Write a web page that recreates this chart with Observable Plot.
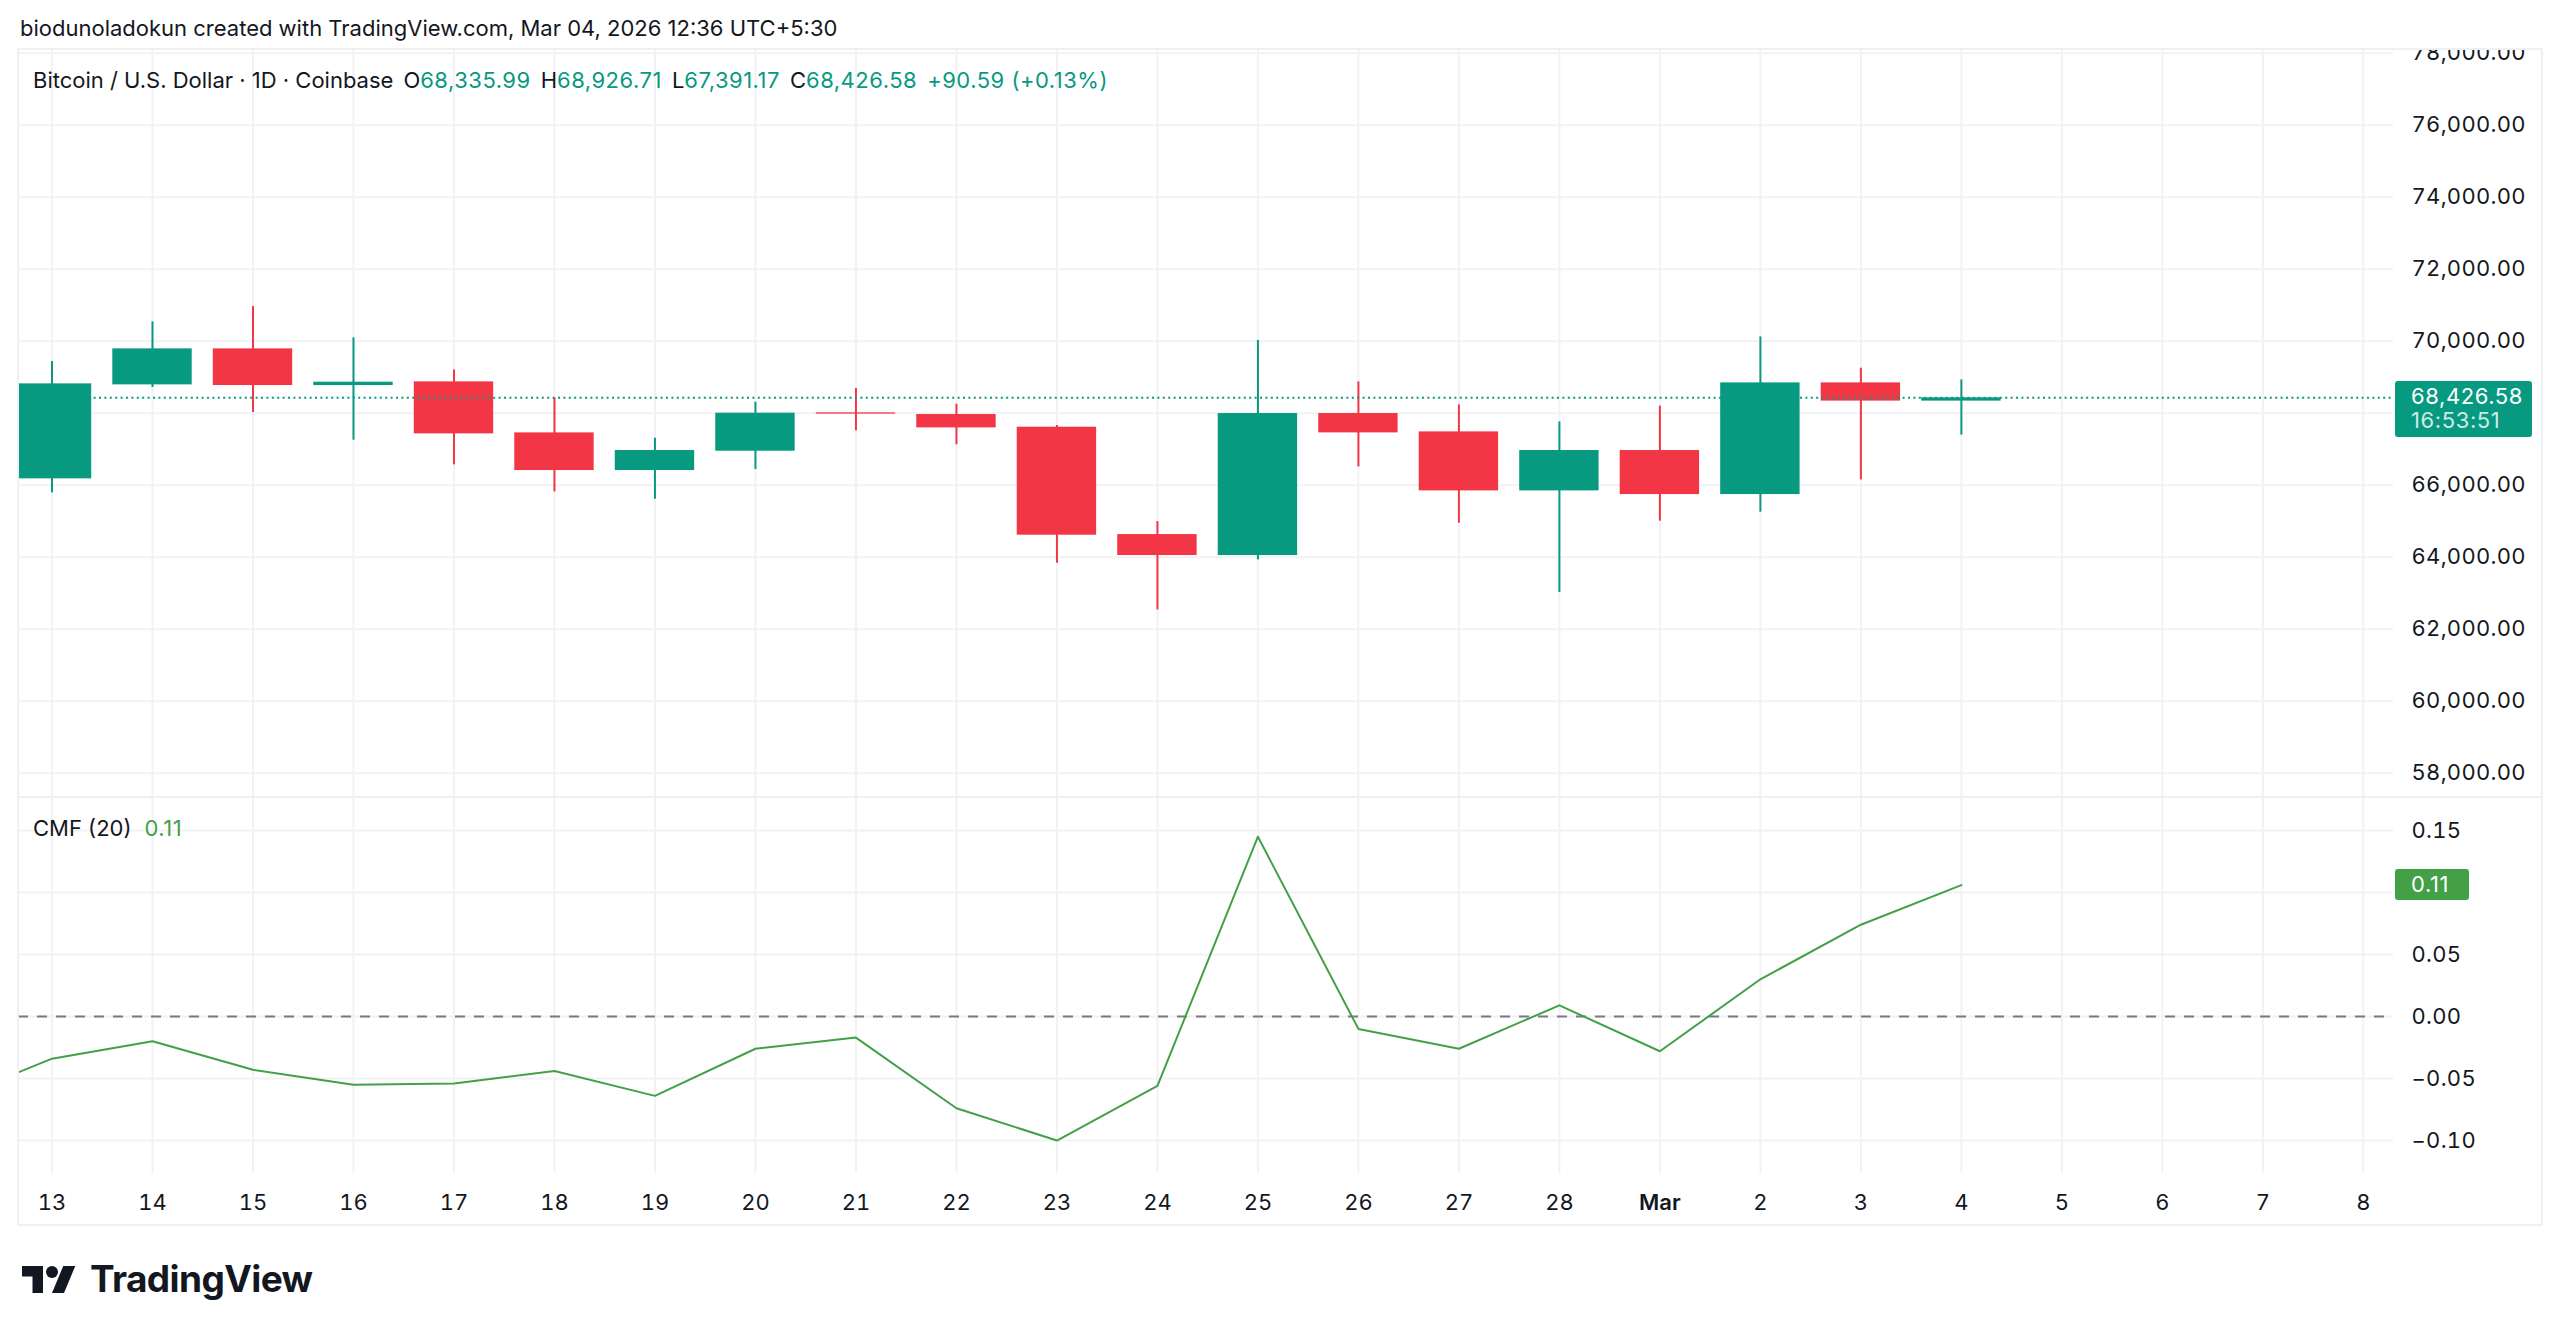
<!DOCTYPE html>
<html>
<head>
<meta charset="utf-8">
<script src="https://cdn.jsdelivr.net/npm/d3@7"></script>
<script src="https://cdn.jsdelivr.net/npm/@observablehq/plot@0.6"></script>
<style>
  html, body { margin: 0; padding: 0; background: #ffffff; }
  body {
    width: 2560px; height: 1336px; position: relative; overflow: hidden;
    font-family: Inter, "Noto Sans", Roboto, sans-serif; color: #131722;
  }
  .abs { position: absolute; white-space: nowrap; }
  #credit { left: 20px; top: 17px; font-size: 22px; line-height: 22px; }
  #legend { left: 33px; top: 69px; font-size: 22px; line-height: 22px; }
  #legend .v { color: #089981; letter-spacing: 0.5px; }
  #legend .g { margin-left: 10px; }
  #cmfLegend { left: 33px; top: 817px; font-size: 22px; line-height: 22px; }
  #cmfLegend .v { color: #43a047; margin-left: 13px; letter-spacing: 0.5px; }
  #frame {
    left: 17px; top: 48px; width: 2526px; height: 1178px; box-sizing: border-box;
    border: 2px solid #eef0f3; pointer-events: none;
  }
  #paneSep { left: 17px; top: 796px; width: 2526px; height: 2px; background: #eef0f3; }
  .tag {
    position: absolute; box-sizing: border-box; color: #ffffff; font-size: 22px;
    border-radius: 3px; padding-left: 16px; letter-spacing: 0.6px;
  }
  #priceTag { background: #089981; width: 137px; height: 56px; line-height: 24px; padding-top: 3px; }
  #priceTag .sub { color: #cdebe5; }
  #cmfTag { background: #43a047; width: 74px; height: 31px; line-height: 31px; }
  #logo { left: 22px; top: 1266px; }
  #logoText { left: 90px; top: 1260px; font-size: 37px; line-height: 37px; font-weight: 700; letter-spacing: -0.6px; color: #131722; }
</style>
</head>
<body>
<div id="credit" class="abs">biodunoladokun created with TradingView.com, Mar 04, 2026 12:36 UTC+5:30</div>
<div id="price" class="abs" style="left:18px; top:49px;"></div>
<div id="cmf" class="abs" style="left:18px; top:798px;"></div>
<div id="paneSep" class="abs"></div>
<div id="frame" class="abs"></div>
<div id="legend" class="abs"></div>
<div id="cmfLegend" class="abs"></div>
<svg id="logo" class="abs" width="54" height="27" viewBox="0 4 36 18">
  <path d="M14 22H7V11H0V4h14v18zM28 22h-8l7.5-18h8L28 22z" fill="#131722"/>
  <circle cx="20" cy="8" r="4" fill="#131722"/>
</svg>
<div id="logoText" class="abs">TradingView</div>

<script>
// Daily BTC/USD candles (Coinbase, 1D)
const dates = [
  "2026-02-13", "2026-02-14", "2026-02-15", "2026-02-16", "2026-02-17",
  "2026-02-18", "2026-02-19", "2026-02-20", "2026-02-21", "2026-02-22",
  "2026-02-23", "2026-02-24", "2026-02-25", "2026-02-26", "2026-02-27",
  "2026-02-28", "2026-03-01", "2026-03-02", "2026-03-03", "2026-03-04"
];
const open  = [66176, 68787, 69787, 68768, 68870, 67453, 66407, 66944, 68010, 67963,
               67611, 64629, 64046, 67991, 67481, 65842, 66963, 65740, 68842, 68335.99];
const high  = [69435, 70537, 70963, 70093, 69204, 68426, 67305, 68305, 68685, 68250,
               67657, 64990, 70019, 68870, 68231, 67759, 68194, 70120, 69250, 68926.71];
const low   = [65787, 68713, 68018, 67250, 66565, 65814, 65611, 66435, 67509, 67120,
               63833, 62536, 63925, 66509, 64944, 63018, 65000, 65250, 66148, 67391.17];
const close = [68815, 69787, 68768, 68861, 67426, 66407, 66963, 68000, 67975, 67592,
               64611, 64046, 67991, 67453, 65842, 66963, 65740, 68842, 68335.99, 68426.58];

// Chaikin Money Flow (20)
const cmfDates = [
  "2026-02-12", "2026-02-13", "2026-02-14", "2026-02-15", "2026-02-16", "2026-02-17",
  "2026-02-18", "2026-02-19", "2026-02-20", "2026-02-21", "2026-02-22", "2026-02-23",
  "2026-02-24", "2026-02-25", "2026-02-26", "2026-02-27", "2026-02-28", "2026-03-01",
  "2026-03-02", "2026-03-03", "2026-03-04"
];
const cmfValues = [-0.067, -0.034, -0.020, -0.043, -0.055, -0.054, -0.044, -0.064, -0.026, -0.017,
                   -0.074, -0.100, -0.056, 0.145, -0.010, -0.026, 0.009, -0.028, 0.030, 0.074, 0.106];

// Axis ticks
const priceTicks = [58000, 60000, 62000, 64000, 66000, 68000, 70000, 72000, 74000, 76000, 78000];
const cmfTicks = [-0.10, -0.05, 0, 0.05, 0.10, 0.15];
const tickDays = [
  "2026-02-13", "2026-02-14", "2026-02-15", "2026-02-16", "2026-02-17", "2026-02-18",
  "2026-02-19", "2026-02-20", "2026-02-21", "2026-02-22", "2026-02-23", "2026-02-24",
  "2026-02-25", "2026-02-26", "2026-02-27", "2026-02-28", "2026-03-01", "2026-03-02",
  "2026-03-03", "2026-03-04", "2026-03-05", "2026-03-06", "2026-03-07", "2026-03-08"
];
const tickLabels = ["13", "14", "15", "16", "17", "18", "19", "20", "21", "22", "23", "24",
                    "25", "26", "27", "28", "Mar", "2", "3", "4", "5", "6", "7", "8"];
const countdown = "16:53:51";

const UP = "#089981", DOWN = "#f23645", CMF_COLOR = "#43a047";
const GRID = "#f2f2f4";
const DAY = 864e5;
const FONT = 'Inter, "Noto Sans", Roboto, sans-serif';

const candles = dates.map((d, i) => ({
  date: new Date(d), open: open[i], high: high[i], low: low[i], close: close[i]
}));
const cmf = cmfDates.map((d, i) => ({date: new Date(d), value: cmfValues[i]}));
const tickDates = tickDays.map(d => new Date(d));
const labelOf = new Map(tickDates.map((d, i) => [+d, tickLabels[i]]));
const candleColor = d => (d.close >= d.open ? UP : DOWN);

const t0 = +new Date(dates[0]);
const xDomain = [new Date(t0 - DAY / 3), new Date(t0 + 23.3 * DAY)];
const priceDomain = [57297, 78103];
const cmfDomain = [-0.1266, 0.1758];

const fmtPrice = d3.format(",.2f");
const fmtCmf = d3.format(".2f");

const W = 2524, RIGHT = 149;
const PRICE_H = 749, CMF_H = 427, CMF_BOTTOM = 52;
const baseStyle = {fontFamily: FONT, fontSize: "22px", color: "#131722", background: "transparent", overflow: "hidden"};

const lastClose = close[close.length - 1];
const lastCmf = cmfValues[cmfValues.length - 1];

// Tick labels that would sit under a last-value tag stay unlabelled (grid line kept)
const pxPerPrice = PRICE_H / (priceDomain[1] - priceDomain[0]);
const priceLabelTicks = priceTicks.filter(v => {
  const dy = (lastClose - v) * pxPerPrice; // positive when tick lies below the tag's value
  return dy < -18 || dy > 44;
});
const pxPerCmf = (CMF_H - CMF_BOTTOM) / (cmfDomain[1] - cmfDomain[0]);
const cmfLabelTicks = cmfTicks.filter(v => Math.abs((lastCmf - v) * pxPerCmf) > 24);

// Price pane
const priceChart = Plot.plot({
  width: W, height: PRICE_H,
  marginLeft: 0, marginRight: RIGHT, marginTop: 0, marginBottom: 0,
  style: baseStyle,
  x: {type: "utc", domain: xDomain, axis: null},
  y: {domain: priceDomain},
  color: {type: "identity"},
  marks: [
    Plot.gridY(priceTicks, {stroke: GRID, strokeOpacity: 1, strokeWidth: 2}),
    Plot.gridX(tickDates, {stroke: GRID, strokeOpacity: 1, strokeWidth: 2}),
    Plot.ruleX(candles, {x: "date", y1: "low", y2: "high", stroke: candleColor, strokeWidth: 2}),
    Plot.rect(candles, {
      x1: d => new Date(+d.date - 0.395 * DAY),
      x2: d => new Date(+d.date + 0.395 * DAY),
      y1: "open", y2: "close", fill: candleColor
    }),
    Plot.ruleY([lastClose], {stroke: UP, strokeWidth: 2, strokeDasharray: "2,3.4"}),
    Plot.axisY(priceLabelTicks, {
      anchor: "right", tickSize: 0, tickPadding: 18, tickFormat: fmtPrice,
      label: null, fill: "#131722", fontSize: 22
    })
  ]
});
document.getElementById("price").append(priceChart);

// CMF pane with the shared date axis
const cmfChart = Plot.plot({
  width: W, height: CMF_H,
  marginLeft: 0, marginRight: RIGHT, marginTop: 0, marginBottom: CMF_BOTTOM,
  style: baseStyle,
  x: {type: "utc", domain: xDomain},
  y: {domain: cmfDomain},
  marks: [
    Plot.gridY(cmfTicks, {stroke: GRID, strokeOpacity: 1, strokeWidth: 2}),
    Plot.gridX(tickDates, {stroke: GRID, strokeOpacity: 1, strokeWidth: 2}),
    Plot.ruleY([0], {stroke: "#787b86", strokeWidth: 2, strokeDasharray: "10,9"}),
    Plot.line(cmf, {x: "date", y: "value", stroke: CMF_COLOR, strokeWidth: 2, clip: true}),
    Plot.axisY(cmfLabelTicks, {
      anchor: "right", tickSize: 0, tickPadding: 18, tickFormat: fmtCmf,
      label: null, fill: "#131722", fontSize: 22
    }),
    Plot.axisX(tickDates, {
      anchor: "bottom", tickSize: 0, tickPadding: 21, tickFormat: d => labelOf.get(+d),
      label: null, fill: "#131722", fontSize: 22
    })
  ]
});
document.getElementById("cmf").append(cmfChart);
cmfChart.querySelectorAll("text").forEach(t => {
  if (t.textContent === "Mar") t.setAttribute("font-weight", "600");
});
// Slightly wider figure spacing on the value scales
[priceChart, cmfChart].forEach(svg =>
  svg.querySelectorAll('g[aria-label="y-axis tick label"]').forEach(g => g.setAttribute("letter-spacing", "0.3"))
);

// Last-value tags on the right scales
const last = candles[candles.length - 1];
const prev = candles[candles.length - 2];
const yPrice = priceChart.scale("y").apply(last.close);
const priceTag = document.createElement("div");
priceTag.id = "priceTag";
priceTag.className = "tag";
priceTag.style.left = (18 + W - RIGHT + 2) + "px";
priceTag.style.top = (49 + yPrice - 16) + "px";
priceTag.innerHTML = `<div>${fmtPrice(last.close)}</div><div class="sub">${countdown}</div>`;
document.body.append(priceTag);

const yCmf = cmfChart.scale("y").apply(lastCmf);
const cmfTag = document.createElement("div");
cmfTag.id = "cmfTag";
cmfTag.className = "tag";
cmfTag.style.left = (18 + W - RIGHT + 2) + "px";
cmfTag.style.top = (798 + yCmf - 15.5) + "px";
cmfTag.textContent = fmtCmf(lastCmf);
document.body.append(cmfTag);

// Legends
const change = last.close - prev.close;
const pct = change / prev.close * 100;
const sign = v => (v >= 0 ? "+" : "\u2212");
document.getElementById("legend").innerHTML =
  `<span>Bitcoin / U.S. Dollar · 1D · Coinbase</span>` +
  `<span class="g">O</span><span class="v">${fmtPrice(last.open)}</span>` +
  `<span class="g">H</span><span class="v">${fmtPrice(last.high)}</span>` +
  `<span class="g">L</span><span class="v">${fmtPrice(last.low)}</span>` +
  `<span class="g">C</span><span class="v">${fmtPrice(last.close)}</span>` +
  `<span class="g v">${sign(change)}${fmtPrice(Math.abs(change))} (${sign(pct)}${fmtCmf(Math.abs(pct))}%)</span>`;
document.getElementById("cmfLegend").innerHTML =
  `<span>CMF (20)</span><span class="v">${fmtCmf(lastCmf)}</span>`;
</script>
</body>
</html>
